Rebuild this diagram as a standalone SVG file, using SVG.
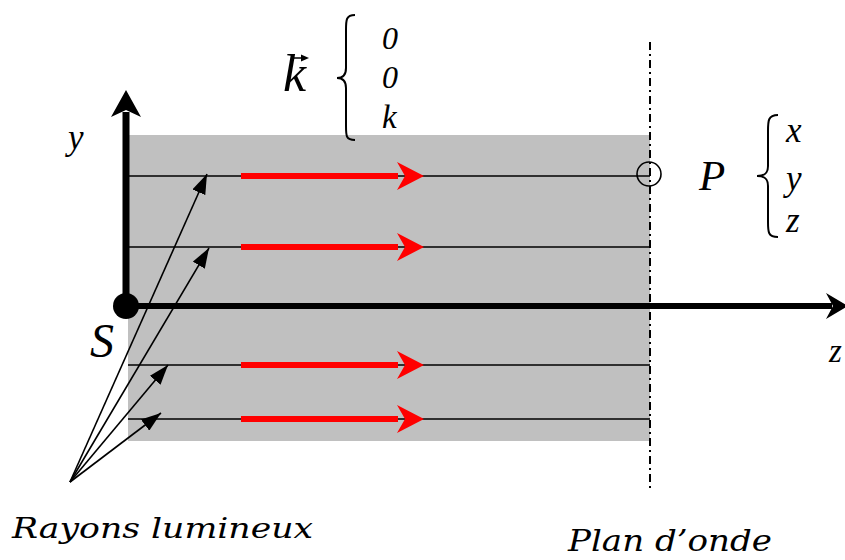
<svg xmlns="http://www.w3.org/2000/svg" width="845" height="560" viewBox="0 0 845 560">
<defs>
<style>
.ti{font-family:'Liberation Serif','Times New Roman',serif;font-style:italic;fill:#000}
.bk{font-family:'DejaVu Serif',serif;font-style:italic;fill:#000}
.ray{stroke:#000;stroke-width:1.6;fill:none}
.hl{stroke:#000;stroke-width:1.6}
.red{stroke:#ff0000;stroke-width:6;fill:none}
.brace{stroke:#000;stroke-width:2;fill:none}
</style>
<marker id="blk" viewBox="0 0 20 14" refX="20" refY="7" markerWidth="20" markerHeight="14" markerUnits="userSpaceOnUse" orient="auto">
<path d="M0,0 L20,7 L0,14 Z" fill="#000"/>
</marker>
</defs>
<rect width="845" height="560" fill="#fff"/>
<g id="wavefront-region">
<rect x="128" y="135" width="522" height="306" fill="#c0c0c0"/>
</g>
<g id="rays">
<line class="hl" x1="128" y1="176" x2="650" y2="176"/>
<line class="hl" x1="128" y1="247" x2="650" y2="247"/>
<line class="hl" x1="128" y1="365" x2="650" y2="365"/>
<line class="hl" x1="128" y1="419" x2="650" y2="419"/>
<line class="red" x1="241" y1="176" x2="398" y2="176"/>
<path d="M397,162 L424,176 L397,190 L405,176 Z" fill="#ff0000"/>
<line class="red" x1="241" y1="247" x2="398" y2="247"/>
<path d="M397,233 L424,247 L397,261 L405,247 Z" fill="#ff0000"/>
<line class="red" x1="241" y1="365" x2="398" y2="365"/>
<path d="M397,351 L424,365 L397,379 L405,365 Z" fill="#ff0000"/>
<line class="red" x1="241" y1="419" x2="398" y2="419"/>
<path d="M397,405 L424,419 L397,433 L405,419 Z" fill="#ff0000"/>
</g>
<g id="plan-onde">
<line x1="650" y1="42" x2="650" y2="492" stroke="#000" stroke-width="2" stroke-dasharray="8,4,2,4"/>
</g>
<g id="axes">
<line x1="126" y1="306" x2="126" y2="112" stroke="#000" stroke-width="7"/>
<path d="M126,90 L141,117 L126,110 L111,117 Z" fill="#000"/>
<line x1="126" y1="306" x2="832" y2="306" stroke="#000" stroke-width="6"/>
<path d="M848,306 L826,293 L833,306 L826,319 Z" fill="#000"/>
<circle cx="126" cy="306" r="13" fill="#000"/>
</g>
<g id="connectors">
<line class="ray" x1="70" y1="482" x2="207" y2="174" marker-end="url(#blk)"/>
<line class="ray" x1="70" y1="482" x2="209" y2="248" marker-end="url(#blk)"/>
<line class="ray" x1="70" y1="482" x2="168" y2="365" marker-end="url(#blk)"/>
<line class="ray" x1="70" y1="482" x2="161" y2="413" marker-end="url(#blk)"/>
</g>
<g id="point-P">
<circle cx="649" cy="174" r="12" fill="none" stroke="#000" stroke-width="1.6"/>
<text class="ti" x="699" y="190" font-size="43">P</text>
<path class="brace" d="M778,115 C768,115 768,121 768,131 L768,166 C768,173 765,176 757,176 C765,176 768,179 768,186 L768,222 C768,232 768,237 778,237"/>
<text class="ti" x="786" y="142" font-size="35">x</text>
<text class="ti" x="786" y="190" font-size="35">y</text>
<text class="ti" x="786" y="232" font-size="35">z</text>
</g>
<g id="vector-k">
<text class="ti" x="283" y="91" font-size="52">k</text>
<line x1="291" y1="58" x2="303" y2="58" stroke="#000" stroke-width="1.5"/>
<path d="M309,58 L301,54.5 L301,61.5 Z" fill="#000"/>
<path class="brace" d="M355,15 C346,15 346,20 346,30 L346,68 C346,75 343,78 337,78 C343,78 346,81 346,88 L346,126 C346,136 346,140 355,140"/>
<text class="ti" x="382" y="49" font-size="32">0</text>
<text class="ti" x="382" y="88" font-size="32">0</text>
<text class="ti" x="382" y="128" font-size="33">k</text>
</g>
<g id="labels">
<text class="ti" x="68" y="149" font-size="35">y</text>
<text class="ti" x="90" y="357" font-size="48">S</text>
<text class="ti" x="829" y="362" font-size="33">z</text>
<text class="bk" x="12" y="538" font-size="28" textLength="301" lengthAdjust="spacingAndGlyphs">Rayons lumineux</text>
<text class="bk" x="568" y="551" font-size="29" textLength="204" lengthAdjust="spacingAndGlyphs">Plan d’onde</text>
</g>
</svg>
